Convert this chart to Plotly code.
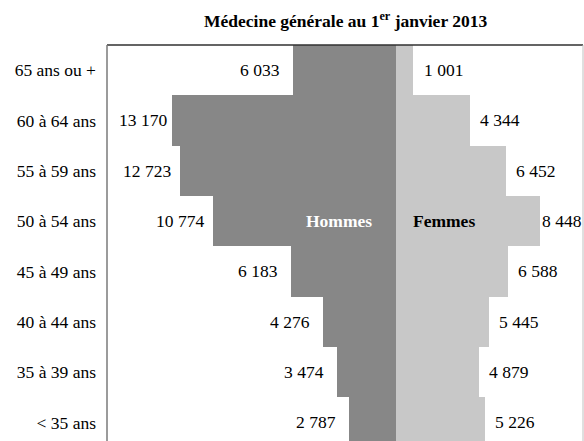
import plotly.graph_objects as go

categories = ["65 ans ou +", "60 à 64 ans", "55 à 59 ans", "50 à 54 ans",
              "45 à 49 ans", "40 à 44 ans", "35 à 39 ans", "< 35 ans"]
hommes = [6033, 13170, 12723, 10774, 6183, 4276, 3474, 2787]
femmes = [1001, 4344, 6452, 8448, 6588, 5445, 4879, 5226]
value_labels_h = ["6 033", "13 170", "12 723", "10 774", "6 183", "4 276", "3 474", "2 787"]
value_labels_f = ["1 001", "4 344", "6 452", "8 448", "6 588", "5 445", "4 879", "5 226"]
title = "Médecine générale au 1<sup>er</sup> janvier 2013"

W, H = 584, 441
ML, MR, MT, MB = 107, 1, 45, 0
XR = [-17000, 11000]
PW = W - ML - MR
FONT = "Liberation Serif"
FS = 17.5
DARK = "#878787"
LIGHT = "#c8c8c8"


def px_to_x(px):
    return XR[0] + (px - ML) / PW * (XR[1] - XR[0])


def x_to_px(x):
    return ML + (x - XR[0]) / (XR[1] - XR[0]) * PW


fig = go.Figure()
fig.add_trace(go.Bar(y=categories, x=[-v for v in hommes], orientation="h",
                     marker=dict(color=DARK, line=dict(width=0)), name="Hommes",
                     showlegend=False, hoverinfo="skip"))
fig.add_trace(go.Bar(y=categories, x=femmes, orientation="h",
                     marker=dict(color=LIGHT, line=dict(width=0)), name="Femmes",
                     showlegend=False, hoverinfo="skip"))

annotations = []
for cat, v, lab in zip(categories, hommes, value_labels_h):
    cpx = x_to_px(-v) - 33
    cpx = max(cpx, ML + 36)
    annotations.append(dict(x=px_to_x(cpx), y=cat, text=lab, showarrow=False,
                            xanchor="center", yanchor="middle",
                            font=dict(family=FONT, size=FS, color="black")))
for cat, v, lab in zip(categories, femmes, value_labels_f):
    cpx = x_to_px(v) + 30
    cpx = min(cpx, W - MR - 21)
    annotations.append(dict(x=px_to_x(cpx), y=cat, text=lab, showarrow=False,
                            xanchor="center", yanchor="middle",
                            font=dict(family=FONT, size=FS, color="black")))

annotations.append(dict(x=0, y=categories[3], text="<b>Hommes</b>", showarrow=False,
                        xanchor="right", xshift=-22, yanchor="middle",
                        font=dict(family=FONT, size=FS, color="white")))
annotations.append(dict(x=0, y=categories[3], text="<b>Femmes</b>", showarrow=False,
                        xanchor="left", xshift=15, yanchor="middle",
                        font=dict(family=FONT, size=FS, color="black")))
annotations.append(dict(x=0.5, y=1, xref="paper", yref="paper", yshift=25,
                        text="<b>" + title + "</b>", showarrow=False,
                        xanchor="center", yanchor="middle",
                        font=dict(family=FONT, size=FS, color="black")))

shapes = [
    dict(type="line", xref="paper", yref="paper", x0=0, x1=1, y0=1, y1=1,
         line=dict(color="#303030", width=1.5)),
    dict(type="line", xref="paper", yref="paper", x0=0, x1=0, y0=0, y1=1,
         line=dict(color="#7a7a7a", width=1.5)),
    dict(type="line", xref="paper", yref="paper", x0=1, x1=1, y0=0, y1=1,
         line=dict(color="#c0c0c0", width=1)),
]

fig.update_layout(
    width=W, height=H,
    margin=dict(l=ML, r=MR, t=MT, b=MB),
    paper_bgcolor="white", plot_bgcolor="white",
    barmode="relative", bargap=0,
    annotations=annotations, shapes=shapes,
    font=dict(family=FONT, size=FS, color="black"),
    xaxis=dict(range=XR, showgrid=False, zeroline=False, showticklabels=False,
               showline=False, fixedrange=True),
    yaxis=dict(type="category", categoryorder="array", categoryarray=categories[::-1],
               range=[-0.37, 7.5], showgrid=False, zeroline=False, showline=False,
               ticks="", ticklabelstandoff=10, fixedrange=True,
               tickfont=dict(family=FONT, size=FS, color="black")),
)

fig.write_html("out.html",
               config={"displayModeBar": False, "staticPlot": True},
               post_script="document.body.style.margin='0';"
                           "document.body.style.overflow='hidden';")
